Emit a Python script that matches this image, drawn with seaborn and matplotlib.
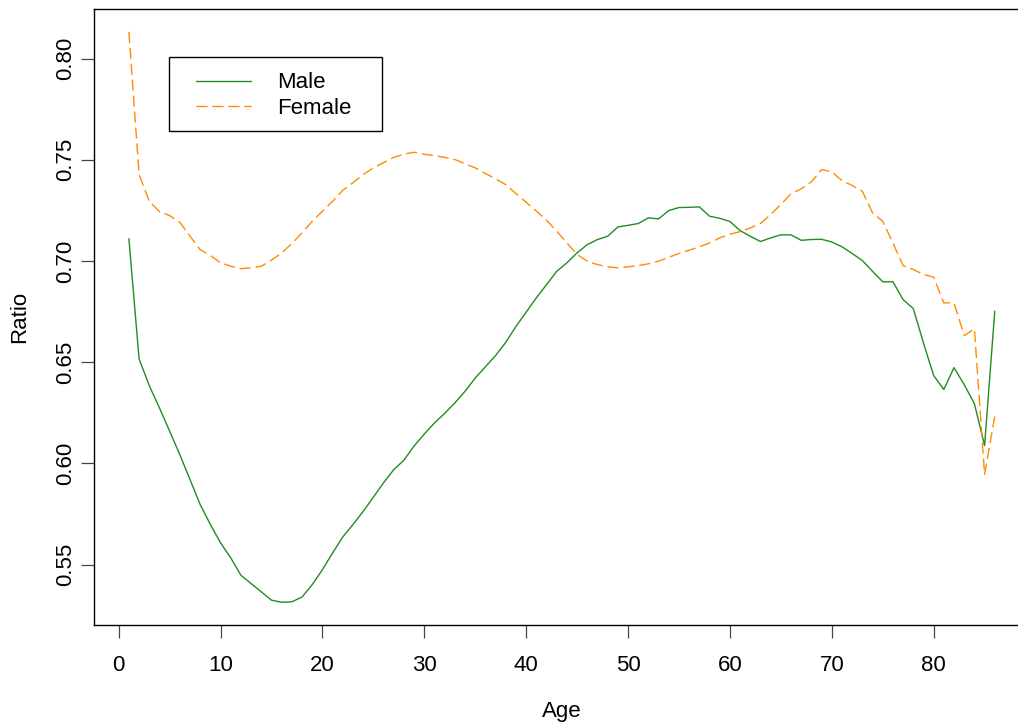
import numpy as np
import pandas as pd
import matplotlib
matplotlib.use("Agg")
import matplotlib.pyplot as plt
from matplotlib.patches import Rectangle
import seaborn as sns

sns.set_theme(style="white")
plt.rcParams["font.family"] = ["Liberation Sans", "DejaVu Sans"]
plt.rcParams["text.color"] = "black"
plt.rcParams["axes.labelcolor"] = "black"
plt.rcParams["xtick.color"] = "black"
plt.rcParams["ytick.color"] = "black"

# ratio by single year of age
ages = list(range(1, 87))
male = [0.711, 0.6516, 0.6384, 0.6274, 0.6159, 0.6043, 0.592, 0.5796, 0.5698, 0.5607,
        0.5533, 0.5447, 0.5406, 0.5365, 0.5324, 0.5314, 0.5316, 0.534, 0.5401, 0.5475,
        0.5558, 0.5637, 0.5698, 0.5763, 0.5833, 0.5904, 0.5969, 0.6016, 0.6086, 0.6145,
        0.62, 0.6247, 0.6299, 0.6356, 0.6422, 0.6477, 0.6533, 0.6598, 0.6677, 0.6747,
        0.6818, 0.6883, 0.6949, 0.6991, 0.704, 0.7081, 0.7106, 0.7122, 0.7168, 0.7176,
        0.7185, 0.7213, 0.7208, 0.7249, 0.7264, 0.7265, 0.7267, 0.7221, 0.7211, 0.7195,
        0.715, 0.7122, 0.7096, 0.7114, 0.7129, 0.7129, 0.7102, 0.7106, 0.7107, 0.7094,
        0.707, 0.7037, 0.7002, 0.6949, 0.6897, 0.6897, 0.6809, 0.6765, 0.6595, 0.6434,
        0.6365, 0.6473, 0.6389, 0.6295, 0.6088, 0.6752]
female = [0.8132, 0.7427, 0.7295, 0.7244, 0.7224, 0.7191, 0.7122, 0.7056, 0.7027, 0.6991,
          0.6974, 0.6962, 0.6966, 0.6974, 0.7004, 0.704, 0.7086, 0.7139, 0.7196, 0.7246,
          0.7295, 0.7349, 0.7387, 0.7427, 0.746, 0.7486, 0.7512, 0.7528, 0.7537, 0.7527,
          0.7521, 0.7512, 0.7501, 0.748, 0.746, 0.7432, 0.7406, 0.7377, 0.7333, 0.729,
          0.7246, 0.7201, 0.7147, 0.7089, 0.7032, 0.6999, 0.6982, 0.6971, 0.6966, 0.6971,
          0.6977, 0.6986, 0.6999, 0.7018, 0.7037, 0.7053, 0.707, 0.7089, 0.7114, 0.7132,
          0.7145, 0.7163, 0.7185, 0.7229, 0.7279, 0.7332, 0.7356, 0.7391, 0.7452, 0.744,
          0.7397, 0.7373, 0.7344, 0.7238, 0.7196, 0.7089, 0.6977, 0.6958, 0.6933, 0.692,
          0.6793, 0.6793, 0.6631, 0.6665, 0.5945, 0.6233]
groups = ["Male", "Female"]
xticks = list(range(0, 81, 10))
yticks = [0.55, 0.60, 0.65, 0.70, 0.75, 0.80]

df = pd.DataFrame({
    "Age": ages + ages,
    "Ratio": male + female,
    "Sex": ["Male"] * len(ages) + ["Female"] * len(ages),
})

fig = plt.figure(figsize=(10.18, 7.22), dpi=100)
ax = fig.add_axes([0.0926, 0.1343, 0.9186, 0.8532])

sns.lineplot(data=df, x="Age", y="Ratio", hue="Sex", style="Sex",
             hue_order=groups, style_order=groups,
             palette={"Male": "#228B22", "Female": "#FF8C00"},
             dashes={"Male": "", "Female": (8, 3.5)},
             linewidth=1.0, ax=ax)

# R-style 4% padding on the axis ranges
def rlim(vals):
    lo, hi = min(vals), max(vals)
    r = hi - lo
    return lo - 0.04 * r, hi + 0.04 * r

ax.set_xlim(*rlim(ages))
ax.set_ylim(*rlim(male + female))
ax.set_xticks(xticks)
ax.set_yticks(yticks)
ax.set_yticklabels([f"{v:.2f}" for v in yticks], rotation=90, va="center")
ax.tick_params(axis="both", direction="out", length=9.4, width=0.9, color="#444444",
               labelsize=16, bottom=True, left=True)
ax.tick_params(axis="x", pad=12)
ax.tick_params(axis="y", pad=4)
for s in ax.spines.values():
    s.set_color("black")
    s.set_linewidth(1.0)

ax.set_xlabel("Age", fontsize=16, labelpad=18)
ax.set_ylabel("Ratio", fontsize=16, labelpad=18)

# legend box drawn R-style: wide frame, entries inset
ax.add_patch(Rectangle((0.0799, 0.922 - 0.1201), 0.2278, 0.1201, transform=ax.transAxes,
                       facecolor="white", edgecolor="black", linewidth=1.0, zorder=4))
handles, labels = ax.get_legend_handles_labels()
keep = [(h, l) for h, l in zip(handles, labels) if l in groups]
leg = ax.legend([h for h, _ in keep], [l for _, l in keep],
                loc="center left", bbox_to_anchor=(0.1088, 0.8596), borderaxespad=0,
                fontsize=16, handlelength=2.48, handletextpad=1.17, labelspacing=0.2,
                borderpad=0, frameon=False)
leg.set_zorder(5)

fig.savefig("out.png", dpi=100)
